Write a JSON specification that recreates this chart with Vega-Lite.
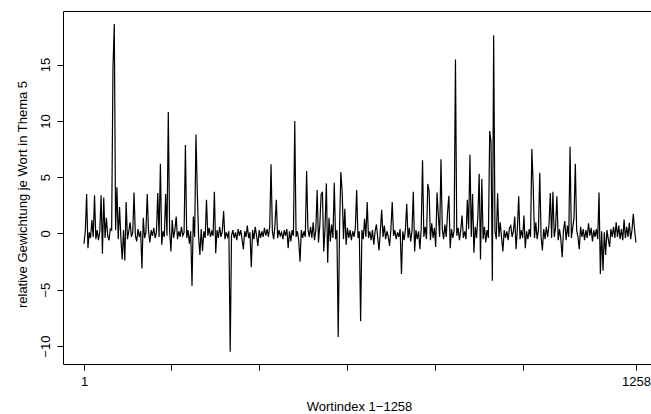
{
  "$schema": "https://vega.github.io/schema/vega-lite/v6.json",
  "width": 589,
  "height": 353,
  "autosize": {"type": "none"},
  "padding": {"left": 63, "top": 11, "right": 0, "bottom": 50},
  "background": "white",
  "config": {"view": {"stroke": "black", "strokeWidth": 1}, "font": "Liberation Sans"},
  "data": {"values": [
{"i":1,"v":-0.9},{"i":4,"v":0.2},{"i":7,"v":3.5},{"i":10,"v":-1.3},{"i":13,"v":0.1},{"i":16,"v":-0.4},{"i":19,"v":1.2},{"i":22,"v":-0.3},{"i":25,"v":3.4},{"i":28,"v":-0.5},
{"i":31,"v":0.3},{"i":34,"v":-0.6},{"i":37,"v":0.2},{"i":40,"v":3.4},{"i":43,"v":-1.8},{"i":46,"v":3.2},{"i":49,"v":-0.4},{"i":52,"v":1.4},{"i":55,"v":-0.2},{"i":58,"v":-0.6},
{"i":61,"v":0.4},{"i":64,"v":0.3},{"i":67,"v":14.7},{"i":70,"v":18.6},{"i":73,"v":0.3},{"i":76,"v":4.1},{"i":79,"v":-0.5},{"i":82,"v":2.35},{"i":85,"v":-0.4},{"i":88,"v":-2.3},
{"i":91,"v":0.3},{"i":94,"v":-2.4},{"i":97,"v":2.8},{"i":100,"v":-0.5},{"i":103,"v":0.2},{"i":106,"v":1.0},{"i":109,"v":-0.3},{"i":112,"v":0.1},{"i":115,"v":3.65},{"i":118,"v":-0.2},
{"i":121,"v":-0.7},{"i":124,"v":0.4},{"i":127,"v":-0.3},{"i":130,"v":0.2},{"i":133,"v":-3.1},{"i":136,"v":1.4},{"i":139,"v":-0.4},{"i":142,"v":0.1},{"i":145,"v":3.5},{"i":148,"v":0.2},
{"i":151,"v":-0.8},{"i":154,"v":0.3},{"i":157,"v":-0.2},{"i":160,"v":0.5},{"i":163,"v":-0.4},{"i":166,"v":0.1},{"i":169,"v":3.6},{"i":172,"v":-0.3},{"i":175,"v":6.2},{"i":178,"v":-1.0},
{"i":181,"v":0.2},{"i":184,"v":-0.3},{"i":187,"v":3.5},{"i":190,"v":-0.2},{"i":193,"v":10.8},{"i":196,"v":0.3},{"i":199,"v":-1.6},{"i":202,"v":1.2},{"i":205,"v":-0.4},{"i":208,"v":0.3},
{"i":211,"v":1.5},{"i":214,"v":-0.5},{"i":217,"v":0.2},{"i":220,"v":-0.3},{"i":223,"v":0.6},{"i":226,"v":-0.2},{"i":229,"v":0.1},{"i":232,"v":7.85},{"i":235,"v":-0.4},{"i":238,"v":0.3},
{"i":241,"v":-0.9},{"i":244,"v":0.2},{"i":247,"v":-4.66},{"i":250,"v":1.5},{"i":253,"v":-0.3},{"i":256,"v":8.8},{"i":259,"v":3.7},{"i":262,"v":-0.3},{"i":265,"v":-1.9},{"i":268,"v":0.4},
{"i":271,"v":-1.55},{"i":274,"v":0.2},{"i":277,"v":-0.4},{"i":280,"v":3.0},{"i":283,"v":-0.2},{"i":286,"v":0.5},{"i":289,"v":-0.3},{"i":292,"v":0.2},{"i":295,"v":-0.2},{"i":298,"v":3.7},
{"i":301,"v":-1.75},{"i":304,"v":0.3},{"i":307,"v":-0.4},{"i":310,"v":0.6},{"i":313,"v":-0.3},{"i":316,"v":0.2},{"i":319,"v":2.0},{"i":322,"v":-0.5},{"i":325,"v":0.1},{"i":328,"v":-0.3},
{"i":331,"v":0.2},{"i":334,"v":-10.5},{"i":337,"v":-0.2},{"i":340,"v":0.3},{"i":343,"v":-0.4},{"i":346,"v":0.1},{"i":349,"v":-0.6},{"i":352,"v":0.4},{"i":355,"v":-0.2},{"i":358,"v":0.3},
{"i":361,"v":-0.5},{"i":364,"v":-1.4},{"i":367,"v":0.2},{"i":370,"v":-0.3},{"i":373,"v":0.7},{"i":376,"v":-0.4},{"i":379,"v":0.1},{"i":382,"v":-3.0},{"i":385,"v":0.3},{"i":388,"v":-0.5},
{"i":391,"v":0.6},{"i":394,"v":-0.2},{"i":397,"v":-1.1},{"i":400,"v":0.3},{"i":403,"v":-0.4},{"i":406,"v":0.2},{"i":409,"v":-0.3},{"i":412,"v":0.5},{"i":415,"v":-0.2},{"i":418,"v":0.4},
{"i":421,"v":-0.3},{"i":424,"v":0.6},{"i":427,"v":6.15},{"i":430,"v":0.2},{"i":433,"v":-0.5},{"i":436,"v":0.8},{"i":439,"v":3.0},{"i":442,"v":-0.4},{"i":445,"v":0.3},{"i":448,"v":-0.2},
{"i":451,"v":0.1},{"i":454,"v":-0.5},{"i":457,"v":0.3},{"i":460,"v":-0.2},{"i":463,"v":0.4},{"i":466,"v":-1.3},{"i":469,"v":0.2},{"i":472,"v":-0.7},{"i":475,"v":0.3},{"i":478,"v":-0.2},
{"i":481,"v":10.0},{"i":484,"v":-0.3},{"i":487,"v":0.2},{"i":490,"v":-0.6},{"i":493,"v":-2.5},{"i":496,"v":0.3},{"i":499,"v":-0.4},{"i":502,"v":0.2},{"i":505,"v":-0.3},{"i":508,"v":5.55},
{"i":511,"v":0.4},{"i":514,"v":-0.3},{"i":517,"v":0.6},{"i":520,"v":-0.4},{"i":523,"v":1.0},{"i":526,"v":-0.6},{"i":529,"v":0.3},{"i":532,"v":3.86},{"i":535,"v":-0.8},{"i":538,"v":0.7},
{"i":541,"v":3.45},{"i":544,"v":3.7},{"i":547,"v":-1.6},{"i":550,"v":0.5},{"i":553,"v":4.45},{"i":556,"v":-2.6},{"i":559,"v":1.4},{"i":562,"v":-0.7},{"i":565,"v":0.8},{"i":568,"v":-0.4},
{"i":571,"v":4.5},{"i":574,"v":-0.5},{"i":577,"v":0.3},{"i":580,"v":-9.2},{"i":583,"v":0.4},{"i":586,"v":5.46},{"i":589,"v":3.7},{"i":592,"v":-0.5},{"i":595,"v":2.2},{"i":598,"v":-1.0},
{"i":601,"v":0.5},{"i":604,"v":-0.4},{"i":607,"v":0.3},{"i":610,"v":-0.6},{"i":613,"v":0.2},{"i":616,"v":-0.3},{"i":619,"v":0.5},{"i":622,"v":3.86},{"i":625,"v":-0.4},{"i":628,"v":0.2},
{"i":631,"v":-7.8},{"i":634,"v":0.3},{"i":637,"v":-0.5},{"i":640,"v":1.3},{"i":643,"v":-0.3},{"i":646,"v":2.8},{"i":649,"v":-0.4},{"i":652,"v":0.2},{"i":655,"v":-0.6},{"i":658,"v":0.3},
{"i":661,"v":-1.0},{"i":664,"v":0.2},{"i":667,"v":0.8},{"i":670,"v":-0.4},{"i":673,"v":-1.5},{"i":676,"v":0.3},{"i":679,"v":2.1},{"i":682,"v":-0.3},{"i":685,"v":0.7},{"i":688,"v":-0.5},
{"i":691,"v":0.2},{"i":694,"v":-0.3},{"i":697,"v":-1.1},{"i":700,"v":0.4},{"i":703,"v":2.8},{"i":706,"v":-0.2},{"i":709,"v":0.3},{"i":712,"v":-0.5},{"i":715,"v":0.1},{"i":718,"v":-0.3},
{"i":721,"v":0.4},{"i":724,"v":-3.6},{"i":727,"v":0.2},{"i":730,"v":-0.6},{"i":733,"v":0.3},{"i":736,"v":2.65},{"i":739,"v":-0.4},{"i":742,"v":0.5},{"i":745,"v":-0.7},{"i":748,"v":0.2},
{"i":751,"v":3.7},{"i":754,"v":-1.6},{"i":757,"v":0.3},{"i":760,"v":-0.5},{"i":763,"v":0.2},{"i":766,"v":-1.4},{"i":769,"v":0.4},{"i":772,"v":6.5},{"i":775,"v":-0.3},{"i":778,"v":0.6},
{"i":781,"v":-0.5},{"i":784,"v":4.4},{"i":787,"v":3.8},{"i":790,"v":-0.6},{"i":793,"v":0.9},{"i":796,"v":-0.4},{"i":799,"v":0.5},{"i":802,"v":-1.2},{"i":805,"v":3.65},{"i":808,"v":1.6},
{"i":811,"v":-0.3},{"i":814,"v":6.6},{"i":817,"v":0.4},{"i":820,"v":-0.5},{"i":823,"v":0.8},{"i":826,"v":-0.3},{"i":829,"v":1.9},{"i":832,"v":3.35},{"i":835,"v":-1.3},{"i":838,"v":0.4},
{"i":841,"v":-0.4},{"i":844,"v":0.3},{"i":847,"v":15.45},{"i":850,"v":-0.2},{"i":853,"v":0.5},{"i":856,"v":-0.6},{"i":859,"v":0.3},{"i":862,"v":1.6},{"i":865,"v":-0.4},{"i":868,"v":0.2},
{"i":871,"v":-0.5},{"i":874,"v":3.0},{"i":877,"v":0.4},{"i":880,"v":7.0},{"i":883,"v":-0.3},{"i":886,"v":3.5},{"i":889,"v":-1.7},{"i":892,"v":0.6},{"i":895,"v":-0.4},{"i":898,"v":1.5},
{"i":901,"v":5.3},{"i":904,"v":-2.3},{"i":907,"v":4.85},{"i":910,"v":-0.5},{"i":913,"v":0.6},{"i":916,"v":-0.8},{"i":919,"v":0.3},{"i":922,"v":-0.4},{"i":925,"v":9.1},{"i":928,"v":8.1},
{"i":931,"v":-4.2},{"i":934,"v":17.6},{"i":937,"v":0.2},{"i":940,"v":-0.5},{"i":943,"v":3.57},{"i":946,"v":-0.3},{"i":949,"v":1.0},{"i":952,"v":-0.4},{"i":955,"v":-1.6},{"i":958,"v":0.3},
{"i":961,"v":-0.4},{"i":964,"v":0.2},{"i":967,"v":-0.6},{"i":970,"v":0.5},{"i":973,"v":0.7},{"i":976,"v":-0.3},{"i":979,"v":0.2},{"i":982,"v":1.5},{"i":985,"v":-1.4},{"i":988,"v":0.4},
{"i":991,"v":3.3},{"i":994,"v":-0.5},{"i":997,"v":0.3},{"i":1000,"v":-0.4},{"i":1003,"v":1.6},{"i":1006,"v":-1.3},{"i":1009,"v":0.2},{"i":1012,"v":-0.5},{"i":1015,"v":0.4},{"i":1018,"v":-0.3},
{"i":1021,"v":7.5},{"i":1024,"v":4.3},{"i":1027,"v":-0.4},{"i":1030,"v":1.0},{"i":1033,"v":-0.5},{"i":1036,"v":0.3},{"i":1039,"v":5.4},{"i":1042,"v":-0.3},{"i":1045,"v":-1.5},{"i":1048,"v":0.4},
{"i":1051,"v":-0.5},{"i":1054,"v":0.6},{"i":1057,"v":-0.3},{"i":1060,"v":0.8},{"i":1063,"v":3.6},{"i":1066,"v":-0.4},{"i":1069,"v":3.7},{"i":1072,"v":-0.3},{"i":1075,"v":0.5},{"i":1078,"v":3.3},
{"i":1081,"v":-0.6},{"i":1084,"v":0.4},{"i":1087,"v":-0.5},{"i":1090,"v":-2.1},{"i":1093,"v":0.3},{"i":1096,"v":1.1},{"i":1099,"v":-0.6},{"i":1102,"v":0.7},{"i":1105,"v":-0.3},{"i":1108,"v":7.7},
{"i":1111,"v":-0.4},{"i":1114,"v":0.5},{"i":1117,"v":1.4},{"i":1120,"v":6.2},{"i":1123,"v":0.3},{"i":1126,"v":-0.3},{"i":1129,"v":-1.4},{"i":1132,"v":0.6},{"i":1135,"v":-0.3},{"i":1138,"v":0.4},
{"i":1141,"v":-0.6},{"i":1144,"v":0.3},{"i":1147,"v":-0.4},{"i":1150,"v":0.9},{"i":1153,"v":-0.2},{"i":1156,"v":0.5},{"i":1159,"v":-0.7},{"i":1162,"v":0.3},{"i":1165,"v":-0.3},{"i":1168,"v":0.4},
{"i":1171,"v":-0.5},{"i":1174,"v":3.65},{"i":1177,"v":-3.6},{"i":1180,"v":0.2},{"i":1183,"v":-3.3},{"i":1186,"v":0.1},{"i":1189,"v":-1.9},{"i":1192,"v":0.3},{"i":1195,"v":-0.5},{"i":1198,"v":-1.2},
{"i":1201,"v":0.4},{"i":1204,"v":-0.3},{"i":1207,"v":0.6},{"i":1210,"v":-0.4},{"i":1213,"v":1.0},{"i":1216,"v":-0.3},{"i":1219,"v":0.7},{"i":1222,"v":-0.5},{"i":1225,"v":0.4},{"i":1228,"v":-0.6},
{"i":1231,"v":1.25},{"i":1234,"v":-0.4},{"i":1237,"v":0.6},{"i":1240,"v":-0.3},{"i":1243,"v":0.95},{"i":1246,"v":-0.5},{"i":1249,"v":0.3},{"i":1252,"v":1.75},{"i":1255,"v":0.3},{"i":1258,"v":-0.8}
  ]},
  "mark": {"type": "line", "color": "black", "strokeWidth": 1.2, "clip": true},
  "encoding": {
    "x": {
      "field": "i", "type": "quantitative",
      "scale": {"domain": [-46.8, 1294.6], "nice": false, "zero": false},
      "axis": {
        "values": [1, 200, 400, 600, 800, 1000, 1258],
        "labelExpr": "datum.value == 1 || datum.value == 1258 ? '' + datum.value : ''",
        "domain": false, "grid": false, "ticks": true, "tickSize": 6, "tickColor": "black",
        "labelColor": "black", "labelFontSize": 13, "labelFont": "Liberation Sans",
        "labelBaseline": "alphabetic", "labelPadding": 15, "labelFlush": false, "labelOverlap": false,
        "title": "Wortindex 1−1258", "titleFont": "Liberation Sans", "titleFontSize": 13,
        "titleFontWeight": "normal", "titleColor": "black", "titleBaseline": "alphabetic",
        "titleAlign": "center", "titleX": 296, "titleY": 46.5
      }
    },
    "y": {
      "field": "v", "type": "quantitative",
      "scale": {"domain": [-11.59, 19.76], "nice": false, "zero": false},
      "axis": {
        "values": [-10, -5, 0, 5, 10, 15],
        "domain": false, "grid": false, "ticks": true, "tickSize": 6, "tickColor": "black",
        "labelColor": "black", "labelFontSize": 13, "labelFont": "Liberation Sans",
        "labelAngle": 270, "labelAlign": "center", "labelBaseline": "alphabetic", "labelPadding": 7.7,
        "labelFlush": false, "labelOverlap": false,
        "title": "relative Gewichtung je Wort in Thema 5", "titleFont": "Liberation Sans", "titleFontSize": 13,
        "titleFontWeight": "normal", "titleColor": "black", "titleAngle": 270, "titleBaseline": "alphabetic",
        "titleAlign": "center", "titleX": -37, "titleY": 183
      }
    }
  }
}
